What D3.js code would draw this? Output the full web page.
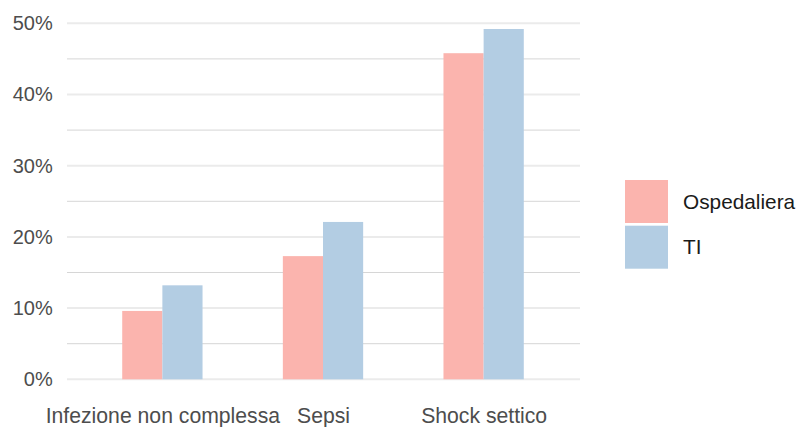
<!DOCTYPE html>
<html>
<head>
<meta charset="utf-8">
<script src="https://cdn.jsdelivr.net/npm/d3@7"></script>
<style>
  html, body { margin: 0; padding: 0; background: #ffffff; }
  svg { display: block; }
  text { font-family: "Liberation Sans", Arial, Helvetica, sans-serif; }
</style>
</head>
<body>
<svg id="chart" width="800" height="427"></svg>
<script>
const categories = ["Infezione non complessa", "Sepsi", "Shock settico"];
const seriesNames = ["Ospedaliera", "TI"];
const ospedaliera = [0.096, 0.173, 0.458];
const ti = [0.132, 0.221, 0.492];
const colors = ["#FBB4AE", "#B3CDE3"];
const majorTicks = [0, 0.1, 0.2, 0.3, 0.4, 0.5];
const minorTicks = [0.05, 0.15, 0.25, 0.35, 0.45];

(function () {
const seriesValues = [ospedaliera, ti];

const svg = d3.select("#chart");
const pLeft = 66, pRight = 580, pTop = 23.3, pBottom = 379.3;

const x = d3.scalePoint().domain(categories).range([pLeft, pRight]).padding(0.6);
const step = x.step();
const barW = step * 0.25;
const y = d3.scaleLinear().domain([0, 0.5]).range([pBottom, pTop]);

// minor grid
svg.append("g").selectAll("line").data(minorTicks).join("line")
  .attr("x1", pLeft + 1).attr("x2", pRight)
  .attr("y1", d => y(d)).attr("y2", d => y(d))
  .attr("stroke", "#d6d6d6").attr("stroke-width", 1);
// major grid
svg.append("g").selectAll("line").data(majorTicks).join("line")
  .attr("x1", pLeft + 1).attr("x2", pRight)
  .attr("y1", d => y(d)).attr("y2", d => y(d))
  .attr("stroke", "#ebebeb").attr("stroke-width", 2);

// bars
const fmt = d3.format(".0%");
seriesValues.forEach((vals, si) => {
  svg.append("g").selectAll("rect").data(categories).join("rect")
    .attr("x", (c) => x(c) - barW + si * barW)
    .attr("width", barW)
    .attr("y", (c, i) => y(vals[i]))
    .attr("height", (c, i) => y(0) - y(vals[i]))
    .attr("fill", colors[si]);
});

// y axis labels
const yAxis = d3.axisLeft(y).tickValues(majorTicks).tickFormat(fmt).tickSize(0).tickPadding(0);
const yg = svg.append("g").attr("transform", `translate(${52.7},0)`).call(yAxis);
yg.select(".domain").remove();
yg.selectAll(".tick line").remove();
yg.selectAll("text").attr("font-size", 20).attr("fill", "#4d4d4d")
  .attr("font-family", "Liberation Sans, Arial, sans-serif");

// x axis labels
const xAxis = d3.axisBottom(x).tickSize(0).tickPadding(0);
const xg = svg.append("g").attr("transform", `translate(0,${408})`).call(xAxis);
xg.select(".domain").remove();
xg.selectAll(".tick line").remove();
xg.selectAll("text").attr("font-size", 21.2).attr("fill", "#4d4d4d")
  .attr("font-family", "Liberation Sans, Arial, sans-serif");

// legend
const lg = svg.append("g");
seriesNames.forEach((name, i) => {
  lg.append("rect").attr("x", 625).attr("y", 180 + i * 45.7)
    .attr("width", 43).attr("height", 43).attr("fill", colors[i]);
  lg.append("text").attr("x", 683).attr("y", 201.5 + i * 45.7)
    .attr("dy", "0.35em").attr("font-size", 20.8).attr("fill", "#1a1a1a")
    .text(name);
});
})();
</script>
</body>
</html>
